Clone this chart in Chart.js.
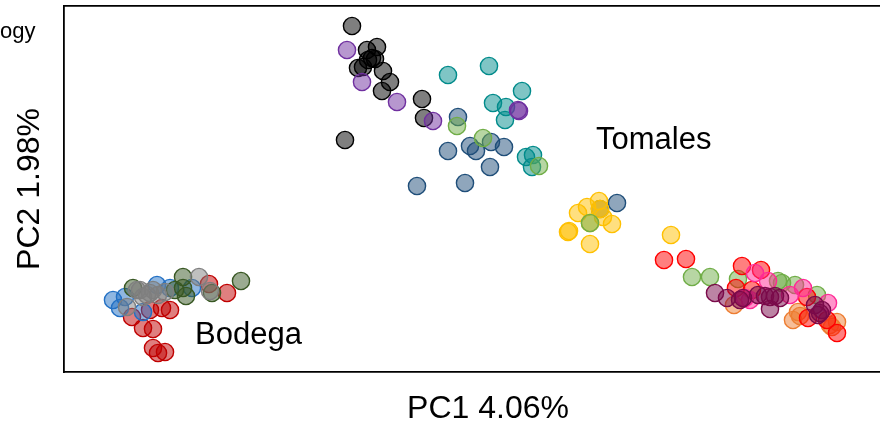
<!DOCTYPE html>
<html><head><meta charset="utf-8">
<script src="https://cdn.jsdelivr.net/npm/chart.js@4/dist/chart.umd.min.js"></script>
<style>
html,body{margin:0;padding:0;width:880px;height:426px;overflow:hidden;background:#fff;}
#wrap{position:relative;width:920px;height:426px;}
</style></head>
<body><div id="wrap"><canvas id="c" width="920" height="426"></canvas></div>
<script>
// PCA scores (arbitrary units): [PC1, PC2]
const tomMagenta = [[651,79],[663,74],[676,72],[679,74],[694,77],[701,76],[706,75],[711,76],[716,74],[706,63],[751,67],[756,59],[754,57],[758,62]];
const tomPink    = [[691,99],[704,91],[739,84],[764,69],[686,72],[726,77],[681,74]];
const tomRed     = [[600,112],[622,113],[678,106],[697,102],[672,84],[688,82],[743,75],[744,54],[763,52],[773,39]];
const tomGreen   = [[393,246],[419,234],[475,206],[526,149],[628,95],[646,95],[674,93],[718,89],[714,91],[731,87],[753,77]];
const tomOrange  = [[670,67],[729,52],[734,60],[736,56],[773,50],[768,45],[766,47]];
const tomYellow  = [[514,159],[523,165],[535,171],[539,155],[548,148],[526,149],[504,140],[505,141],[526,128],[536,163],[607,137]];
const tomPurple  = [[283,322],[298,290],[333,270],[369,251],[455,261],[454,262]];
const tomSteel   = [[394,255],[384,221],[406,226],[412,221],[427,230],[440,225],[426,205],[353,186],[401,189],[553,169],[536,163]];
const tomTeal    = [[384,297],[425,306],[458,281],[429,269],[442,265],[441,252],[462,215],[469,217],[468,205]];
const tomBlack   = [[288,346],[303,322],[313,325],[308,314],[304,312],[311,313],[294,304],[299,305],[319,301],[326,290],[318,281],[358,273],[360,254],[281,232]];
const bodGray    = [[63,65],[73,82],[76,82],[86,79],[79,75],[89,82],[101,80],[135,95],[146,81],[83,77],[94,77]];
const bodGreen   = [[69,84],[119,95],[119,84],[122,76],[148,79],[177,91],[111,82]];
const bodBlue    = [[49,72],[56,64],[61,75],[79,60],[93,87],[106,84],[128,84]];
const bodRed     = [[68,55],[79,44],[89,43],[89,24],[94,19],[101,20],[106,62],[98,64],[145,88],[163,79],[86,62]];

const seriesNames  = ['Tomales magenta','Tomales pink','Tomales red','Tomales green','Tomales orange','Tomales yellow','Tomales purple','Tomales blue','Tomales teal','Tomales black','Bodega gray','Bodega green','Bodega blue','Bodega red'];
const seriesData   = [tomMagenta,tomPink,tomRed,tomGreen,tomOrange,tomYellow,tomPurple,tomSteel,tomTeal,tomBlack,bodGray,bodGreen,bodBlue,bodRed];
const seriesColors = ['#7A0A4A','#FF2A95','#FF0000','#70AD47','#ED7D31','#FFC000','#7030A0','#1F4E79','#008B8B','#000000','#7F7F7F','#385723','#2270C4','#C00000'];

const xTitle = 'PC1 4.06%';
const yTitle = 'PC2 1.98%';
const groupLabels = ['Tomales','Bodega'];
const groupLabelX = [532,131];
const groupLabelY = [232,37];
const legendFragment = 'ogy';

function alpha(hex,a){const n=parseInt(hex.slice(1),16);return `rgba(${n>>16},${(n>>8)&255},${n&255},${a})`;}

const datasets = seriesData.map((arr,i)=>({
  label: seriesNames[i],
  data: arr.map(p=>({x:p[0],y:p[1]})),
  backgroundColor: alpha(seriesColors[i],0.5),
  borderColor: seriesColors[i],
  borderWidth: 1.4,
  pointRadius: 8.6,
  pointHoverRadius: 8.6
}));

const textPlugin = {
  id:'textPlugin',
  afterDatasetsDraw(chart){
    const ctx = chart.ctx, xs = chart.scales.x, ys = chart.scales.y;
    ctx.save();
    ctx.fillStyle = '#000';
    ctx.font = '31px "Liberation Sans", Arial, sans-serif';
    ctx.textAlign = 'left'; ctx.textBaseline = 'middle';
    groupLabels.forEach((t,i)=>ctx.fillText(t, xs.getPixelForValue(groupLabelX[i]), ys.getPixelForValue(groupLabelY[i])));
    ctx.font = '22px "Liberation Sans", Arial, sans-serif';
    ctx.textBaseline = 'alphabetic';
    ctx.fillText(legendFragment, 0, 38);
    ctx.restore();
  }
};

const axisCommon = {
  ticks:{display:false},
  grid:{display:false, drawTicks:false},
  border:{display:true, color:'#000', width:1.8}
};

new Chart(document.getElementById('c'), {
  type:'scatter',
  data:{datasets},
  options:{
    responsive:false,
    animation:false,
    events:[],
    layout:{autoPadding:false, padding:{left:0, top:6, right:8, bottom:0}},
    plugins:{legend:{display:false}, tooltip:{enabled:false}},
    scales:{
      x:{...axisCommon, type:'linear', position:'bottom', min:0, max:848,
         title:{display:true, text:xTitle, color:'#000', font:{family:'"Liberation Sans", Arial, sans-serif', size:32, lineHeight:1}, padding:{top:21.5, bottom:0.5}}},
      x2:{...axisCommon, type:'linear', position:'top', min:0, max:848},
      y:{...axisCommon, type:'linear', position:'left', min:0, max:366,
         title:{display:true, text:yTitle, color:'#000', font:{family:'"Liberation Sans", Arial, sans-serif', size:32, lineHeight:1}, padding:{top:14, bottom:18}}}
    }
  },
  plugins:[textPlugin]
});
</script>
</body></html>
